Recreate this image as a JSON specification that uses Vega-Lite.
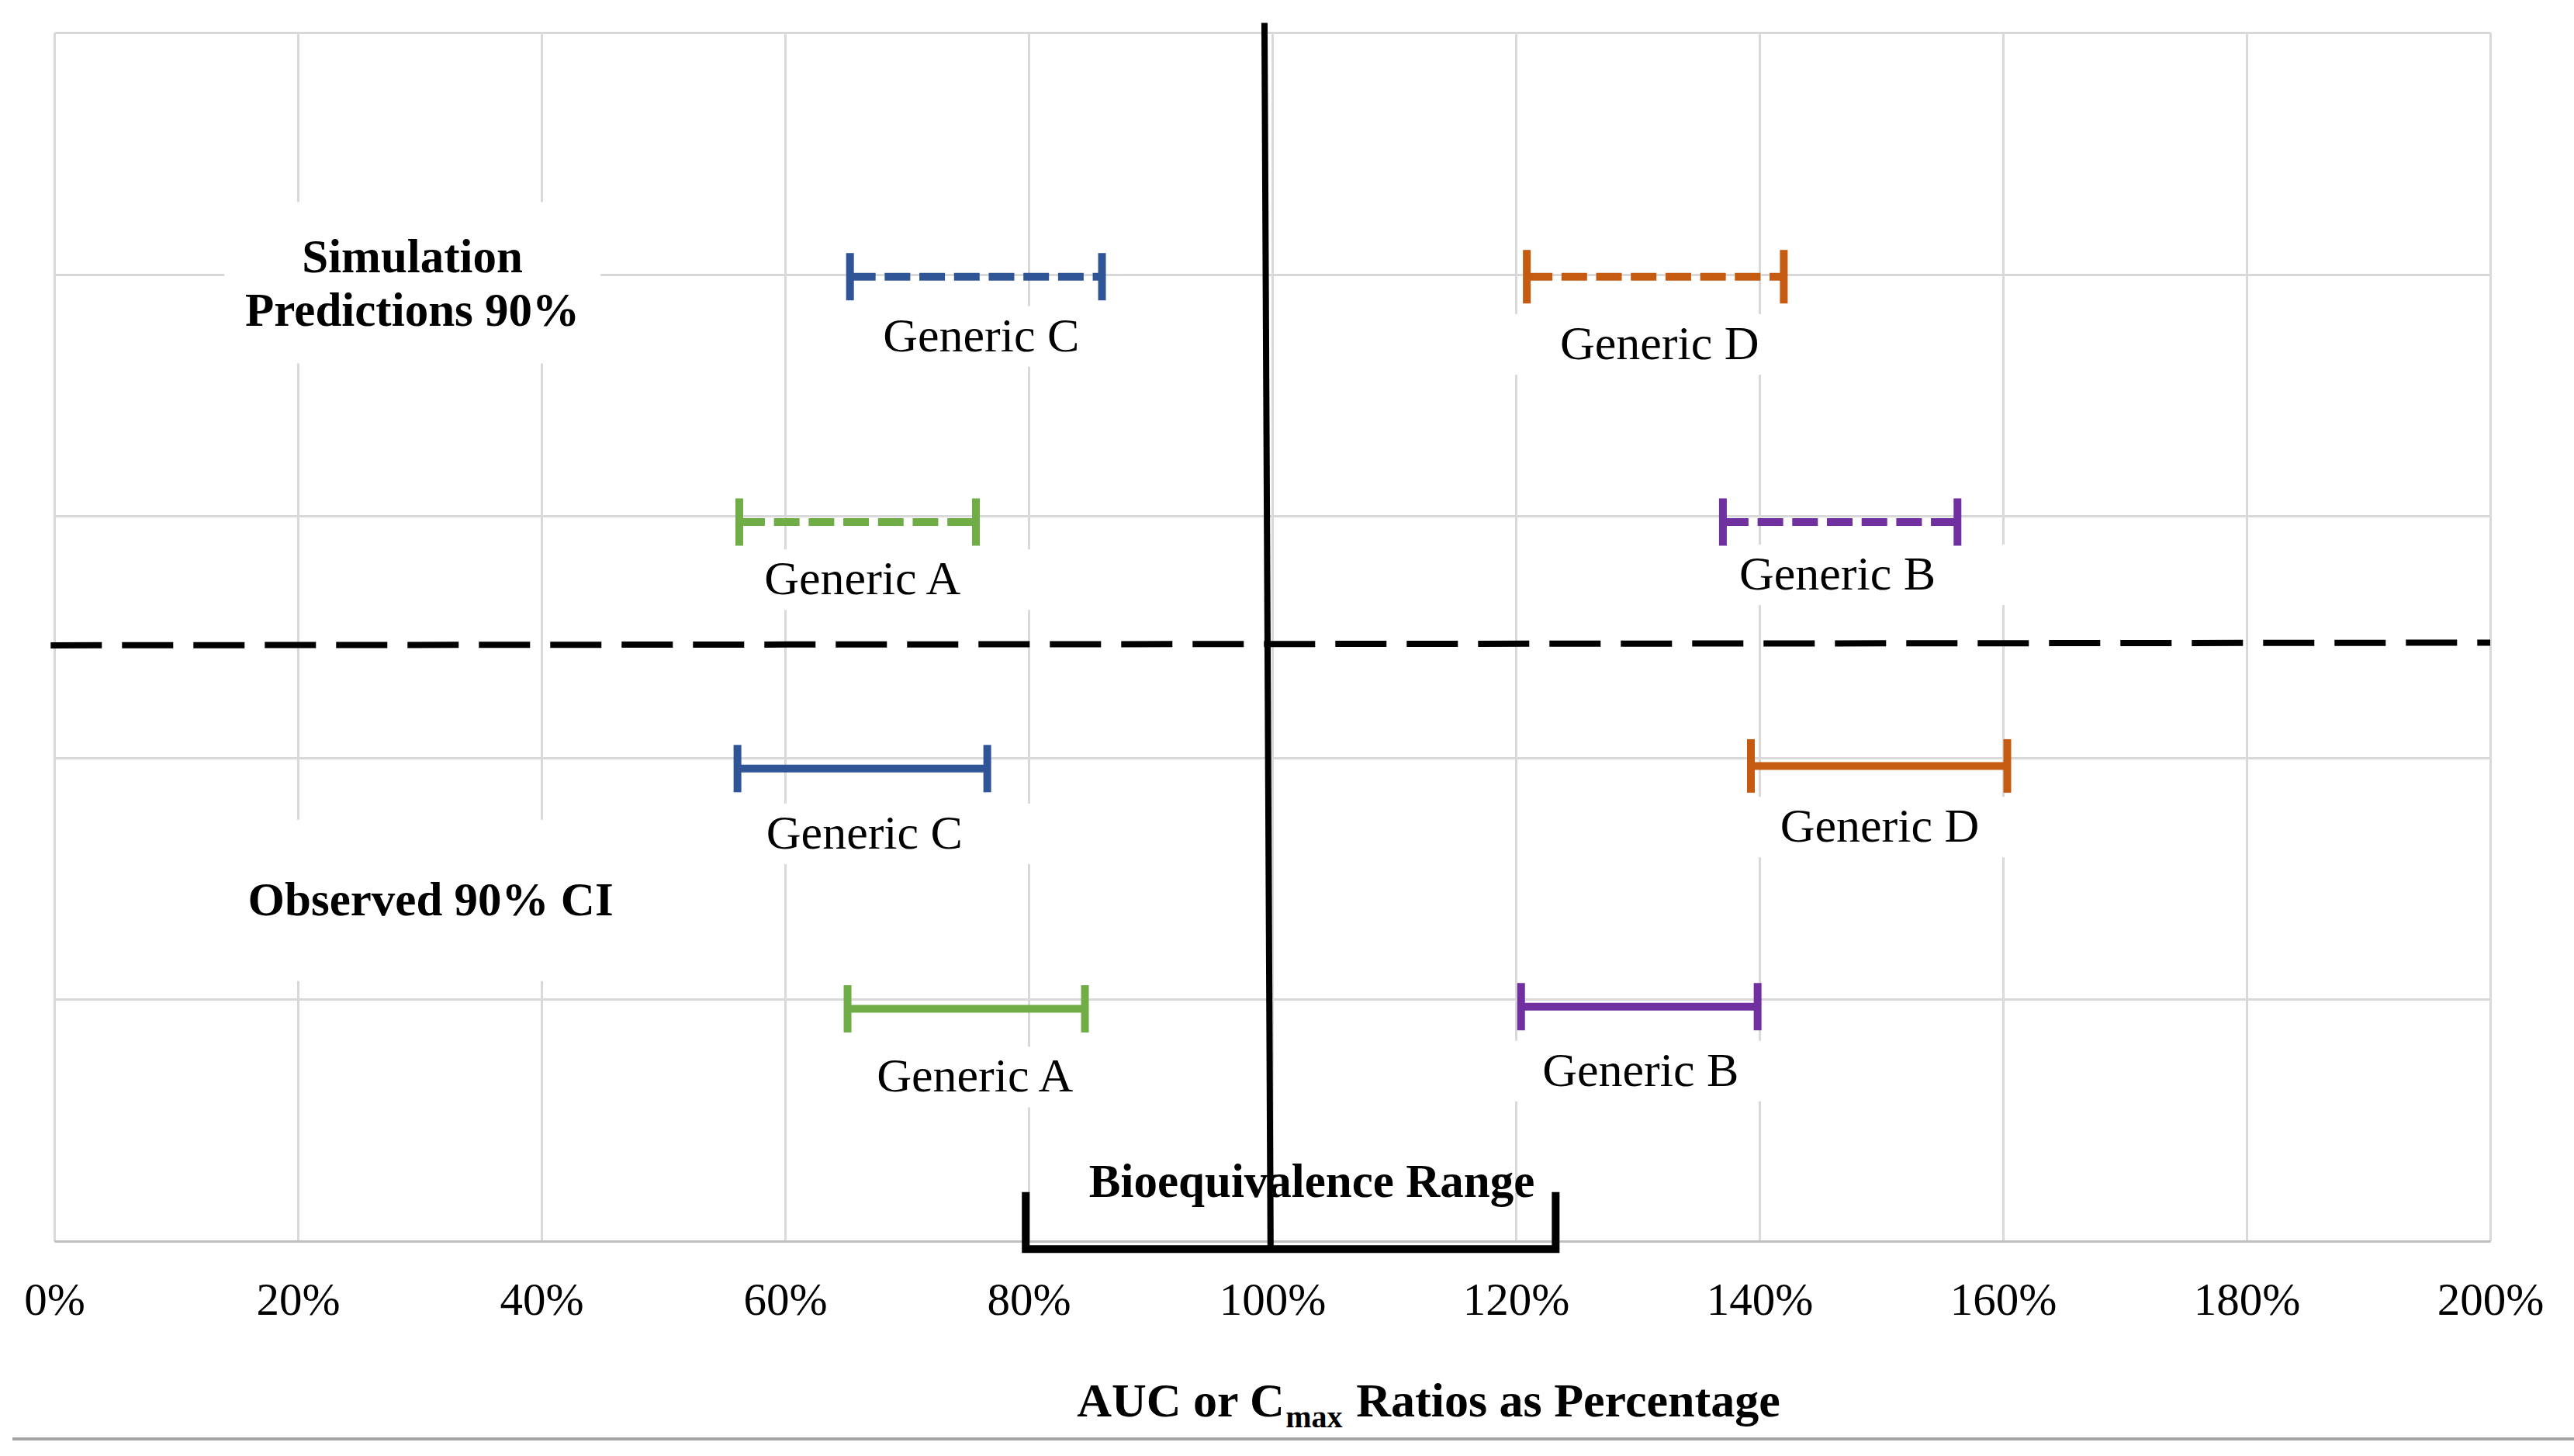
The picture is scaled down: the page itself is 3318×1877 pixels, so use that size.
{
  "$schema": "https://vega.github.io/schema/vega-lite/v6.json",
  "width": 3140,
  "height": 1558,
  "autosize": {"type": "none"},
  "padding": {"left": 70, "top": 42, "right": 108, "bottom": 277},
  "background": "#ffffff",
  "config": {"view": {"stroke": null}, "text": {"font": "Liberation Serif"}},
  "datasets": {
    "genericLabels": [
      {"label": "Generic C", "x": 76.1, "y": 3.743},
      {"label": "Generic D", "x": 131.8, "y": 3.71},
      {"label": "Generic A", "x": 66.36, "y": 2.737},
      {"label": "Generic B", "x": 146.4, "y": 2.757},
      {"label": "Generic C", "x": 66.52, "y": 1.685},
      {"label": "Generic D", "x": 149.87, "y": 1.713},
      {"label": "Generic A", "x": 75.59, "y": 0.679},
      {"label": "Generic B", "x": 130.24, "y": 0.704}
    ],
    "headingBoxes": [
      {"x": 29.4, "y": 3.965},
      {"x": 30.9, "y": 1.41}
    ],
    "headings": [
      {"label": "Simulation", "x": 29.4, "y": 4.067},
      {"label": "Predictions 90%", "x": 29.4, "y": 3.846},
      {"label": "Observed 90% CI", "x": 30.9, "y": 1.405}
    ],
    "bars": [
      {"set": "Simulation", "generic": "C", "x": 65.33, "x2": 86.02, "y": 3.99},
      {"set": "Simulation", "generic": "D", "x": 120.9, "x2": 142.0, "y": 3.99},
      {"set": "Simulation", "generic": "A", "x": 56.24, "x2": 75.67, "y": 2.975},
      {"set": "Simulation", "generic": "B", "x": 137.0, "x2": 156.26, "y": 2.975},
      {"set": "Observed", "generic": "C", "x": 56.09, "x2": 76.6, "y": 1.955},
      {"set": "Observed", "generic": "D", "x": 139.3, "x2": 160.35, "y": 1.966},
      {"set": "Observed", "generic": "A", "x": 65.13, "x2": 84.62, "y": 0.961},
      {"set": "Observed", "generic": "B", "x": 120.43, "x2": 139.85, "y": 0.97}
    ],
    "hline": [{"x": -0.3, "x2": 200, "y": 2.465, "y2": 2.476}],
    "vline": [{"x": 99.36, "x2": 99.86, "y": 5.04, "y2": -0.035}],
    "bracket": [
      {"x": 79.76, "y": 0.187, "i": 0},
      {"x": 79.76, "y": -0.033, "i": 1},
      {"x": 123.27, "y": -0.033, "i": 2},
      {"x": 123.27, "y": 0.187, "i": 3}
    ],
    "border": [{"x": -3.44, "x2": 206.9, "y": -0.818}],
    "bio": [{"label": "Bioequivalence Range", "x": 103.25, "y": 0.241}],
    "title": [
      {"part": "a", "label": "AUC or C", "x": 101.0, "y": -0.725},
      {"part": "b", "label": "max", "x": 101.1, "y": -0.77},
      {"part": "c", "label": "Ratios as Percentage", "x": 106.9, "y": -0.725}
    ]
  },
  "encoding": {
    "x": {
      "field": "x", "type": "quantitative",
      "scale": {"domain": [0, 200], "nice": false, "zero": false},
      "axis": {
        "values": [0, 20, 40, 60, 80, 100, 120, 140, 160, 180, 200],
        "labelExpr": "datum.value + '%'",
        "grid": true, "gridColor": "#D9D9D9", "gridWidth": 3,
        "domain": true, "domainColor": "#BFBFBF", "domainWidth": 3,
        "ticks": false, "tickSize": 0,
        "labelFont": "Liberation Serif", "labelFontSize": 59, "labelColor": "#000000",
        "labelPadding": 94, "labelBaseline": "alphabetic", "labelFlush": false, "labelOverlap": false,
        "title": null
      }
    },
    "y": {
      "field": "y", "type": "quantitative",
      "scale": {"domain": [0, 5], "nice": false, "zero": false},
      "axis": {
        "values": [0, 1, 2, 3, 4, 5],
        "grid": true, "gridColor": "#D9D9D9", "gridWidth": 3,
        "domain": false, "ticks": false, "labels": false, "title": null
      }
    }
  },
  "layer": [
    {
      "data": {"name": "genericLabels"},
      "mark": {"type": "point", "shape": "M-1,-0.1696H1V0.1696H-1Z", "size": 211600, "filled": true, "color": "#ffffff", "opacity": 1, "strokeWidth": 0}
    },
    {
      "data": {"name": "headingBoxes"},
      "mark": {"type": "point", "shape": "M-1,-0.4289H1V0.4289H-1Z", "size": 235225, "filled": true, "color": "#ffffff", "opacity": 1, "strokeWidth": 0}
    },
    {
      "data": {"name": "hline"},
      "mark": {"type": "rule", "color": "#000000", "strokeWidth": 8, "strokeDash": [66, 26], "strokeCap": "butt"},
      "encoding": {"x2": {"field": "x2"}, "y2": {"field": "y2"}}
    },
    {
      "data": {"name": "bars"},
      "mark": {"type": "rule", "strokeWidth": 10, "strokeCap": "butt"},
      "encoding": {
        "x2": {"field": "x2"},
        "color": {"field": "generic", "type": "nominal", "scale": {"domain": ["A", "B", "C", "D"], "range": ["#70AD47", "#7030A0", "#2F5597", "#C55A11"]}, "legend": null},
        "strokeDash": {"field": "set", "type": "nominal", "scale": {"domain": ["Simulation", "Observed"], "range": [[33, 11.7], [1, 0]]}, "legend": null}
      }
    },
    {
      "data": {"name": "bars"},
      "transform": [{"fold": ["x", "x2"], "as": ["end", "x"]}, {"filter": "datum.generic !== 'D'"}],
      "mark": {"type": "tick", "orient": "vertical", "thickness": 10, "size": 61, "opacity": 1},
      "encoding": {
        "color": {"field": "generic", "type": "nominal", "scale": {"domain": ["A", "B", "C", "D"], "range": ["#70AD47", "#7030A0", "#2F5597", "#C55A11"]}, "legend": null}
      }
    },
    {
      "data": {"name": "bars"},
      "transform": [{"fold": ["x", "x2"], "as": ["end", "x"]}, {"filter": "datum.generic === 'D'"}],
      "mark": {"type": "tick", "orient": "vertical", "thickness": 10, "size": 69, "opacity": 1},
      "encoding": {
        "color": {"field": "generic", "type": "nominal", "scale": {"domain": ["A", "B", "C", "D"], "range": ["#70AD47", "#7030A0", "#2F5597", "#C55A11"]}, "legend": null}
      }
    },
    {
      "data": {"name": "genericLabels"},
      "mark": {"type": "text", "font": "Liberation Serif", "fontSize": 62, "align": "center", "baseline": "middle", "color": "#000000"},
      "encoding": {"text": {"field": "label"}}
    },
    {
      "data": {"name": "headings"},
      "mark": {"type": "text", "font": "Liberation Serif", "fontSize": 61, "fontWeight": "bold", "align": "center", "baseline": "middle", "color": "#000000"},
      "encoding": {"text": {"field": "label"}}
    },
    {
      "data": {"name": "bio"},
      "mark": {"type": "text", "font": "Liberation Serif", "fontSize": 61, "fontWeight": "bold", "align": "center", "baseline": "middle", "color": "#000000"},
      "encoding": {"text": {"field": "label"}}
    },
    {
      "data": {"name": "title"},
      "transform": [{"filter": "datum.part === 'a'"}],
      "mark": {"type": "text", "font": "Liberation Serif", "fontSize": 62, "fontWeight": "bold", "align": "right", "baseline": "alphabetic", "color": "#000000"},
      "encoding": {"text": {"field": "label"}}
    },
    {
      "data": {"name": "title"},
      "transform": [{"filter": "datum.part === 'b'"}],
      "mark": {"type": "text", "font": "Liberation Serif", "fontSize": 40, "fontWeight": "bold", "align": "left", "baseline": "alphabetic", "color": "#000000"},
      "encoding": {"text": {"field": "label"}}
    },
    {
      "data": {"name": "title"},
      "transform": [{"filter": "datum.part === 'c'"}],
      "mark": {"type": "text", "font": "Liberation Serif", "fontSize": 62, "fontWeight": "bold", "align": "left", "baseline": "alphabetic", "color": "#000000"},
      "encoding": {"text": {"field": "label"}}
    },
    {
      "data": {"name": "vline"},
      "mark": {"type": "rule", "color": "#000000", "strokeWidth": 8},
      "encoding": {"x2": {"field": "x2"}, "y2": {"field": "y2"}}
    },
    {
      "data": {"name": "bracket"},
      "mark": {"type": "line", "color": "#000000", "strokeWidth": 10, "strokeJoin": "miter", "strokeCap": "square"},
      "encoding": {"order": {"field": "i", "type": "quantitative"}}
    },
    {
      "data": {"name": "border"},
      "mark": {"type": "rule", "color": "#A6A6A6", "strokeWidth": 4},
      "encoding": {"x2": {"field": "x2"}}
    }
  ]
}
